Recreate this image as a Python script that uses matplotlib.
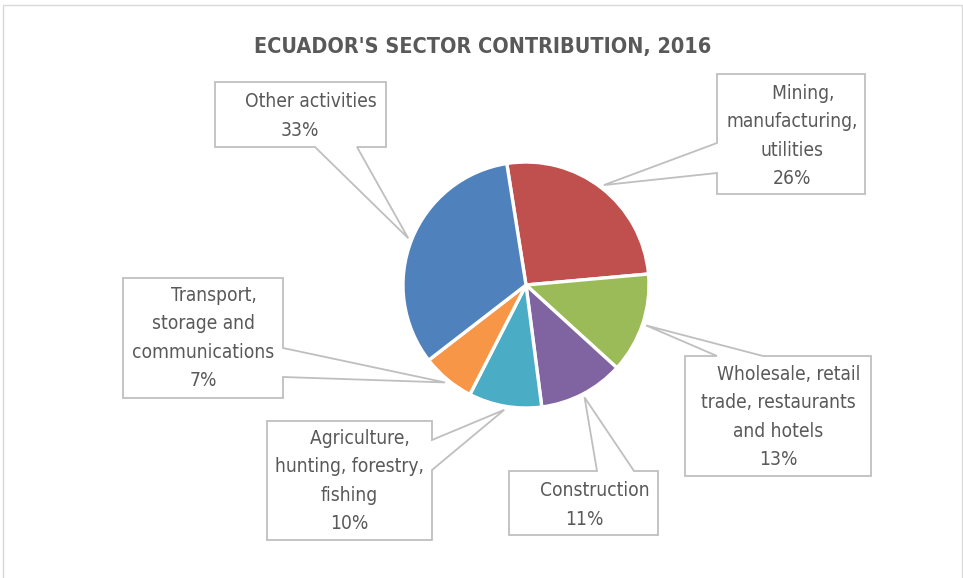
import matplotlib
matplotlib.use("Agg")
import matplotlib.pyplot as plt
import matplotlib.patches as mpatches
from matplotlib import font_manager
import numpy as np

# Excel used Arial Narrow; use a condensed face if one is installed
condensed = [f for f in font_manager.fontManager.ttflist
             if f.name == 'DejaVu Sans' and 'ondensed' in str(f.stretch) + f.fname]
if condensed:
    plt.rcParams['font.family'] = ['DejaVu Sans']
    plt.rcParams['font.stretch'] = 'condensed'
    FS, TFS, LS = 13.8, 15.5, 1.63
else:
    plt.rcParams['font.family'] = ['Liberation Sans', 'DejaVu Sans']
    FS, TFS, LS = 14.5, 15.5, 1.5

# Data (share of GDP, %)
sectors = ['Mining,\nmanufacturing,\nutilities',
           'Wholesale, retail\ntrade, restaurants\nand hotels',
           'Construction',
           'Agriculture,\nhunting, forestry,\nfishing',
           'Transport,\nstorage and\ncommunications',
           'Other activities']
shares = [26.1, 13.2, 11.2, 9.6, 7.0, 33.0]
colors = ['#C0504D', '#9BBB59', '#8064A2', '#4BACC6', '#F79646', '#4F81BD']

W, H = 963, 578
TEXT = '#595959'
EDGE = '#BFBFBF'

fig = plt.figure(figsize=(W / 100, H / 100), dpi=100)
ax = fig.add_axes([0, 0, 1, 1])

# pie in pixel coordinates (y measured from bottom)
cx, cy, r = 526, H - 285, 123
wedges, _ = ax.pie(shares, colors=colors, startangle=99, counterclock=False,
                   center=(cx, cy), radius=r,
                   wedgeprops=dict(edgecolor='white', linewidth=2.4))
ax.set_xlim(0, W)
ax.set_ylim(0, H)
ax.set_aspect('equal')
ax.axis('off')

# chart frame (bottom edge runs off the image)
ax.add_patch(mpatches.Rectangle((2.5, -10), W - 4, H - 4.5 + 10, fill=False,
                                edgecolor='#D9D9D9', linewidth=1.0))

ax.text(483, H - 53, "ECUADOR'S SECTOR CONTRIBUTION, 2016", ha='center', va='baseline',
        fontsize=TFS, fontweight='bold', color=TEXT)

# callout layout (image pixel coords, y down): box, side, pointer base, text centre
callouts = [
    ((717, 74, 865, 194), 'left', (173, 143), (792, 136)),
    ((685, 356, 871, 476), 'top', (717, 763), (778, 417)),
    ((509, 471, 658, 535), 'top', (597, 634), (584, 505)),
    ((267, 421, 432, 540), 'right', (440, 470), (349, 481)),
    ((123, 278, 283, 398), 'right', (348, 377), (203, 338)),
    ((215, 82, 386, 147), 'bottom', (357, 315), (300, 116)),
]


def callout_poly(box, side, base, tip):
    x0, y0, x1, y1 = box
    pts = [(x0, y0)]
    if side == 'top':
        pts += [(base[0], y0), tip, (base[1], y0)]
    pts += [(x1, y0)]
    if side == 'right':
        pts += [(x1, base[0]), tip, (x1, base[1])]
    pts += [(x1, y1)]
    if side == 'bottom':
        pts += [(base[0], y1), tip, (base[1], y1)]
    pts += [(x0, y1)]
    if side == 'left':
        pts += [(x0, base[0]), tip, (x0, base[1])]
    return [(x, H - y) for x, y in pts]


for w, name, share, (box, side, base, tc) in zip(wedges, sectors, shares, callouts):
    mid = np.deg2rad((w.theta1 + w.theta2) / 2)
    tip = (cx + 1.03 * r * np.cos(mid), H - (cy + 1.03 * r * np.sin(mid)))
    poly = mpatches.Polygon(callout_poly(box, side, base, tip), closed=True,
                            facecolor='white', edgecolor=EDGE, linewidth=1.3, zorder=3)
    ax.add_patch(poly)
    label = '    ' + name + '\n' + f'{share:.0f}%'
    ax.text(tc[0], H - tc[1], label, ha='center', va='center', multialignment='center',
            fontsize=FS, color=TEXT, linespacing=LS, zorder=4)

fig.savefig('out.png', dpi=100)
